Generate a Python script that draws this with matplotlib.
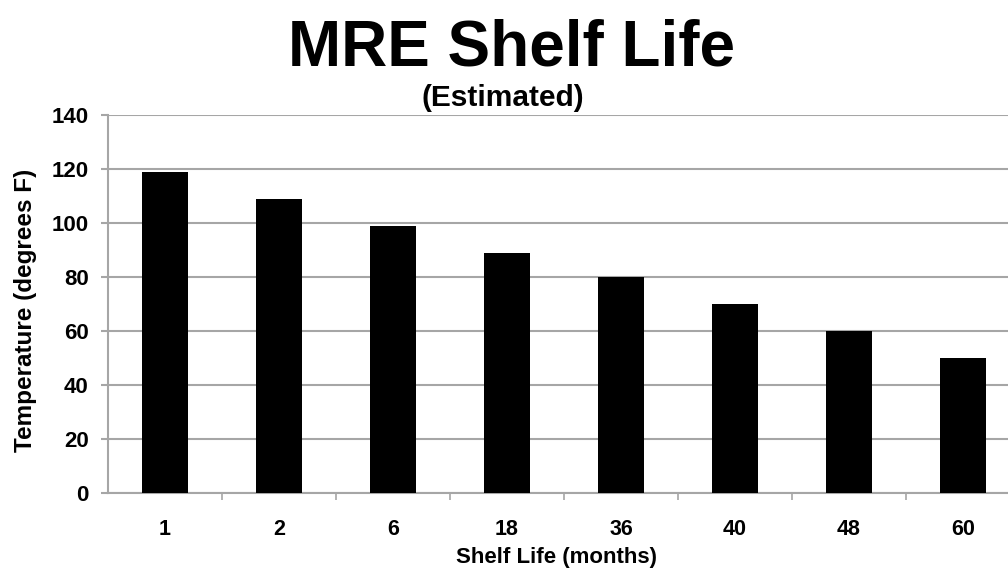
import matplotlib
matplotlib.use("Agg")
import matplotlib.pyplot as plt
from matplotlib.ticker import FixedLocator

categories = ["1", "2", "6", "18", "36", "40", "48", "60"]
temperatures = [119, 109, 99, 89, 80, 70, 60, 50]
y_ticks = [0, 20, 40, 60, 80, 100, 120, 140]

plt.rcParams['font.family'] = ['Liberation Sans', 'DejaVu Sans']
plt.rcParams['font.weight'] = 'bold'

fig = plt.figure(figsize=(10.08, 5.77), dpi=100)
fig.patch.set_facecolor('white')
ax = fig.add_axes([108/1008, 84/577, 912/1008, 378/577])

x = list(range(len(categories)))
ax.bar(x, temperatures, width=0.40, color='black', zorder=3)

grid_c = '#a6a6a6'
ax.set_xlim(-0.5, len(categories) - 0.5)
ax.set_ylim(0, 140)
ax.set_yticks(y_ticks)
ax.set_yticklabels([str(v) for v in y_ticks], fontsize=16, fontweight='bold')
ax.yaxis.grid(True, color=grid_c, linewidth=1.5, zorder=0)
ax.set_axisbelow(True)

ax.set_xticks(x)
ax.set_xticklabels(categories, fontsize=15.5, fontweight='bold')
ax.xaxis.set_minor_locator(FixedLocator([i + 0.5 for i in range(len(categories) - 1)]))
ax.tick_params(axis='x', which='major', length=0, pad=19)
ax.tick_params(axis='x', which='minor', length=5, width=1.2, color=grid_c, direction='out')
ax.tick_params(axis='y', which='major', length=5, width=1.5, color=grid_c, direction='out', pad=9)

for s in ['top', 'right']:
    ax.spines[s].set_visible(False)
for s in ['left', 'bottom']:
    ax.spines[s].set_color(grid_c)
    ax.spines[s].set_linewidth(1.5)

ax.set_xlabel("Shelf Life (months)", fontsize=16, fontweight='bold')
ax.xaxis.set_label_coords((556 - 108) / 912, -(547 - 493) / 378)
ax.set_ylabel("Temperature (degrees F)", fontsize=17.5, fontweight='bold')
ax.yaxis.set_label_coords(-(108 - 37) / 912, (493 - 310) / 378)

fig.text(511/1008, (577-65)/577, "MRE Shelf Life", fontsize=46, fontweight='bold',
         ha='center', va='baseline')
fig.text(503/1008, (577-106)/577, "(Estimated)", fontsize=21.5, fontweight='bold',
         ha='center', va='baseline')

fig.savefig("out.png", dpi=100, facecolor='white')
